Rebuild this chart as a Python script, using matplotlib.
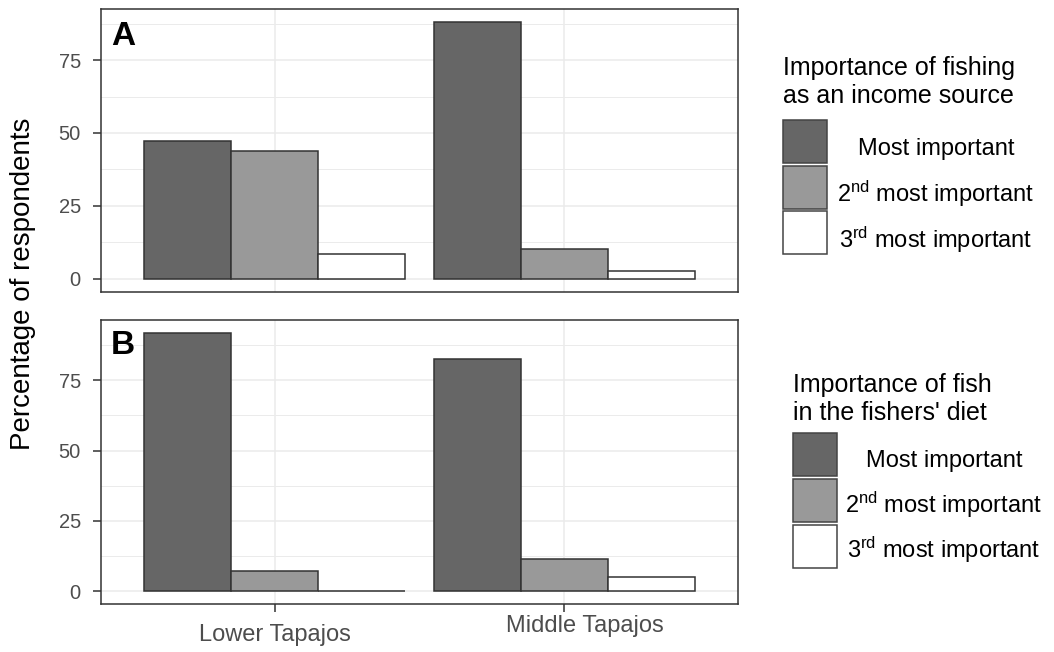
import matplotlib
matplotlib.use("Agg")
import matplotlib.pyplot as plt
import numpy as np
from matplotlib.patches import Rectangle
from matplotlib.transforms import Affine2D

plt.rcParams['font.family'] = ['Liberation Sans', 'DejaVu Sans']
plt.rcParams['mathtext.fontset'] = 'custom'
plt.rcParams['mathtext.rm'] = 'Liberation Sans'
plt.rcParams['mathtext.it'] = 'Liberation Sans:italic'
plt.rcParams['mathtext.bf'] = 'Liberation Sans:bold'

# ---- data ----
regions = ["Lower Tapajos", "Middle Tapajos"]
levels = ["Most important", "2nd most important", "3rd most important"]
level_labels = ["Most important", r"2$^{\mathrm{nd}}$ most important", r"3$^{\mathrm{rd}}$ most important"]
income_most = [47.3, 88.0]
income_2nd = [43.8, 10.1]
income_3rd = [8.6, 2.6]
diet_most = [91.8, 82.6]
diet_2nd = [7.2, 11.6]
diet_3rd = [0.0, 5.0]
fills = ["#666666", "#999999", "#FFFFFF"]
yticks = [0, 25, 50, 75]
minor_yticks = [12.5, 37.5, 62.5, 87.5]
panel_letters = ["A", "B"]
legend_titles = [["Importance of fishing", "as an income source"],
                 ["Importance of fish", "in the fishers' diet"]]

W, H = 1054, 652
fig = plt.figure(figsize=(W / 100, H / 100), dpi=100)

def fx(x):
    return x / W

def fy(y):
    return 1 - y / H

def make_ax(top, bottom):
    return fig.add_axes([fx(101), fy(bottom), fx(738) - fx(101), fy(top) - fy(bottom)])

axA = make_ax(9.3, 291.7)
axB = make_ax(320, 604.3)

edge = "#333333"
x = np.arange(1, len(regions) + 1)
bw = 0.3

for ax, series, letter, baseline in [
    (axA, [income_most, income_2nd, income_3rd], panel_letters[0], 0.8736),
    (axB, [diet_most, diet_2nd, diet_3rd], panel_letters[1], 0.880),
]:
    for i, vals in enumerate(series):
        ax.bar(x + (i - 1) * bw, vals, width=bw, color=fills[i], edgecolor=edge,
               linewidth=1.1, zorder=3)
    top = max(max(s) for s in series)
    ax.set_ylim(-0.05 * top, top * 1.05)
    ax.set_xlim(0.4, 2.6)
    ax.set_yticks(yticks)
    ax.set_yticks(minor_yticks, minor=True)
    ax.set_xticks(x)
    ax.grid(True, which='major', color="#EBEBEB", linewidth=1.1, zorder=0)
    ax.grid(True, which='minor', axis='y', color="#EBEBEB", linewidth=0.7, zorder=0)
    ax.set_axisbelow(True)
    for s in ax.spines.values():
        s.set_color(edge)
        s.set_linewidth(1.1)
    ax.tick_params(axis='both', which='major', color=edge, width=1.1, length=5.5,
                   labelcolor="#4D4D4D")
    ax.tick_params(axis='y', which='minor', length=0)
    ax.tick_params(axis='y', labelsize=14.5, pad=9)
    ax.text(0.016, baseline, letter, transform=ax.transAxes, fontsize=24,
            fontweight='bold', ha='left', va='baseline', color='black')

axA.tick_params(axis='x', bottom=False, labelbottom=False)
axB.set_xticklabels(regions)
axB.tick_params(axis='x', labelsize=17, pad=9)
lab = axB.get_xticklabels()[1]
lab.set_transform(lab.get_transform() + Affine2D().translate(21, 9))

fig.text(fx(23), fy(284), "Percentage of respondents", rotation=90, ha='center',
         va='center', fontsize=20, color='black')

# ---- legends ----
legend_specs = [
    dict(title_x=783, title_base=[75, 103], key_x=783, key_tops=[120, 165.5, 211],
         lab_cx=936, lab_base=[155, 202, 248]),
    dict(title_x=793, title_base=[392, 420], key_x=793, key_tops=[433, 479, 525],
         lab_cx=944, lab_base=[467, 513, 558]),
]
for spec, title in zip(legend_specs, legend_titles):
    for t, b in zip(title, spec['title_base']):
        fig.text(fx(spec['title_x']), fy(b), t, fontsize=18, ha='left', va='baseline',
                 color='black')
    for i in range(3):
        ktop = spec['key_tops'][i]
        r = Rectangle((fx(spec['key_x']), fy(ktop + 43)), fx(44), 43 / H,
                      transform=fig.transFigure, facecolor=fills[i], edgecolor="#444444",
                      linewidth=1.1)
        fig.patches.append(r)
        fig.text(fx(spec['lab_cx']), fy(spec['lab_base'][i]), level_labels[i], fontsize=17,
                 ha='center', va='baseline', color='black')

fig.savefig("out.png", dpi=100)
